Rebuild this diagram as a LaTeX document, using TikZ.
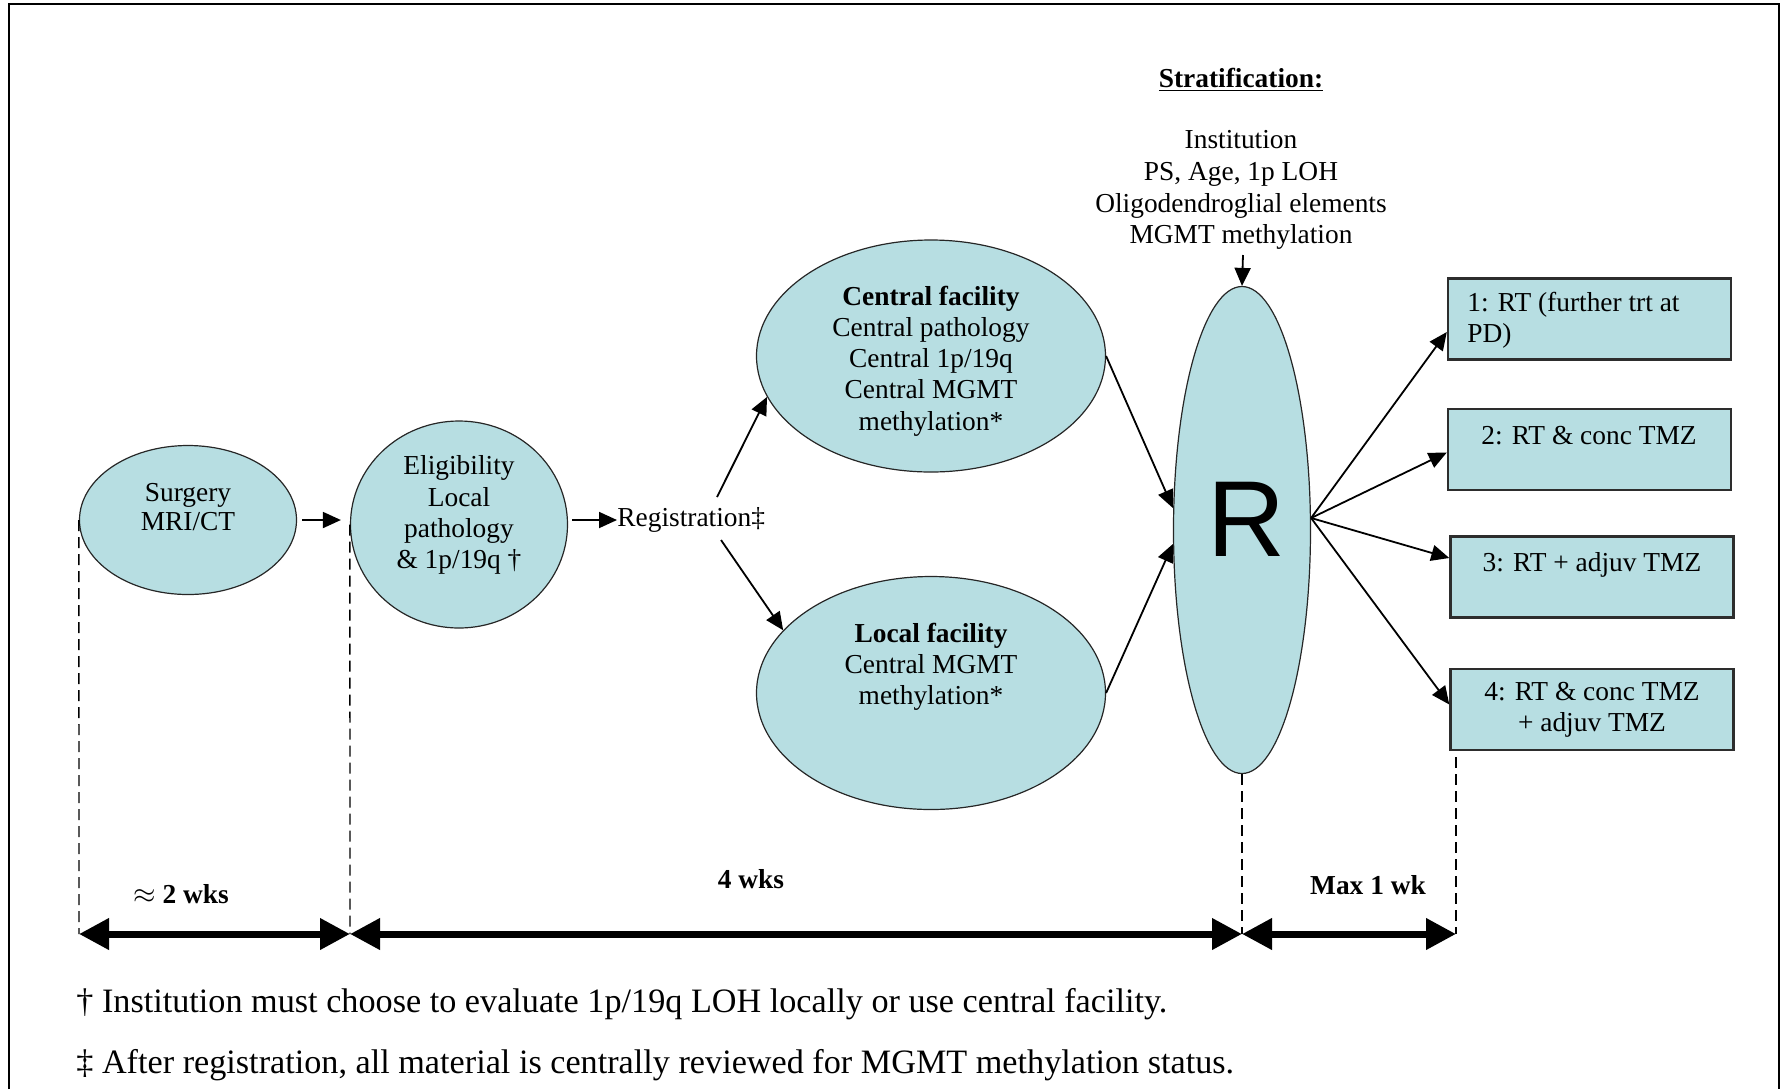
\documentclass[tikz,border=0pt]{standalone}
\usepackage{fontspec}
\setmainfont{Liberation Serif}
\newfontfamily\bigsans{Liberation Sans}
\usetikzlibrary{shapes.geometric,arrows.meta,calc}
\definecolor{ovalfill}{RGB}{183,222,226}
\definecolor{boxline}{RGB}{45,45,45}

\begin{document}
\begin{tikzpicture}[x=0.5pt,y=-0.5pt,
  oval/.style={ellipse, draw=black!85, line width=0.6pt, fill=ovalfill, inner sep=0pt},
  txt/.style={align=center, inner sep=0pt, font=\fontsize{13.7}{15.6}\selectfont},
  armbox/.style={rectangle, draw=boxline, line width=1.2pt, fill=ovalfill, inner sep=0pt,
                 minimum width=141.5pt, minimum height=40.5pt},
  arr/.style={-{Triangle[length=9pt,width=8pt]}, line width=0.9pt},
  guide/.style={dash pattern=on 5.5pt off 3pt, line width=0.7pt},
  span/.style={{Triangle[length=15pt,width=15pt]}-{Triangle[length=15pt,width=15pt]}, line width=3.5pt},
  foot/.style={anchor=west, inner sep=0pt, font=\fontsize{17.1}{20}\selectfont},
  wks/.style={inner sep=0pt, font=\fontsize{13.7}{15.6}\selectfont\bfseries},
]
\useasboundingbox (0,0) rectangle (1785,1089);

% outer frame (open at the bottom)
\draw[line width=1pt] (9,1089) -- (9,4) -- (1779,4) -- (1779,1089);

% stratification factors
\node[txt, font=\fontsize{13.7}{15.6}\selectfont\bfseries] (strathead) at (1241,80) {\underline{Stratification:}};
\node[txt, font=\fontsize{13.7}{15.9}\selectfont] (stratlist) at (1241,190)
  {Institution\\PS, Age, 1p LOH\\Oligodendroglial elements\\MGMT methylation};
\coordinate (stratTip) at (1243,255);

% flow ellipses
\node[oval, minimum width=108.5pt, minimum height=74.5pt] (surg) at (188,520) {};
\node[txt, font=\fontsize{13.7}{14.3}\selectfont] (surgT) at (188,507) {Surgery\\MRI/CT};

\node[oval, minimum width=108.5pt, minimum height=103.5pt] (elig) at (459,524.5) {};
\node[txt] (eligT) at (459,515) {Eligibility\\Local\\pathology\\\& 1p/19q \dag};

\node[txt, anchor=west] (reg) at (617,520) {Registration\ddag};

\node[oval, minimum width=174.5pt, minimum height=116pt] (cen) at (931,356) {};
\node[txt] (cenT) at (931,361) {\textbf{Central facility}\\Central pathology\\Central 1p/19q\\Central MGMT\\methylation*};

\node[oval, minimum width=174.5pt, minimum height=116.5pt] (loc) at (931,693) {};
\node[txt] (locT) at (931,667) {\textbf{Local facility}\\Central MGMT\\methylation*};

\node[oval, minimum width=68.5pt, minimum height=243.5pt] (R) at (1242,530) {};
\node[inner sep=0pt, font=\fontsize{54}{54}\bigsans] (Rlab) at (1246,519) {R};

% treatment arms
\node[armbox] (b1) at (1589.5,319) {};
\node[txt, anchor=west, align=left] (b1T) at (1467,320) {1: RT (further trt at\\PD)};
\node[armbox] (b2) at (1589.5,449.5) {};
\node[txt, anchor=base] (b2T) at (1589,444) {2: RT \& conc TMZ};
\node[armbox] (b3) at (1592,577) {};
\node[txt, anchor=base] (b3T) at (1592,571) {3: RT + adjuv TMZ};
\node[armbox] (b4) at (1592,709.5) {};
\node[txt] (b4T) at (1592,710) {4: RT \& conc TMZ\\+ adjuv TMZ};

% connectors
\draw[arr, shorten <=2.5pt, shorten >=4.5pt] (surg.east) -- (surg.east -| elig.west);
\draw[arr, shorten <=2pt] (elig.east |- reg.west) -- (reg.west);
\coordinate (regU) at (717,497);
\coordinate (regD) at (721,540);
\draw[arr] (regU) -- (cen.194);
\draw[arr] (regD) -- (loc.157);
\draw[arr] (cen.east) -- ($(R.west)+(0,-22)$);
\draw[arr] (loc.east) -- ($(R.west)+(0,14)$);
\draw[arr] (stratTip) -- (R.north);
\coordinate (Rout) at ($(R.east)+(0,-12)$);
\draw[arr] (Rout) -- ($(b1.west)+(0,13)$);
\draw[arr] (Rout) -- ($(b2.west)+(0,3)$);
\draw[arr] (Rout) -- ($(b3.west)+(0,-19)$);
\draw[arr] (Rout) -- ($(b4.west)+(0,-5)$);

% time line
\coordinate (base) at (0,934);
\coordinate (t0) at (79,934);
\coordinate (t1) at (350,934);
\coordinate (t2) at (1242,934);
\coordinate (t3) at (1456,934);
\draw[guide] (surg.west) -- (t0);
\draw[guide] (elig.west) -- (t1);
\draw[guide] (R.south) -- (t2);
\draw[guide, shorten <=3pt] (t3 |- b4.south) -- (t3);
\draw[span] (t0) -- (t1);
\draw[span] (t1) -- (t2);
\draw[span] (t2) -- (t3);
\node[wks] (w1) at (181,894) {$\approx$ 2 wks};
\node[wks] (w2) at (751,879) {4 wks};
\node[wks] (w3) at (1368,885) {Max 1 wk};

% footnotes
\node[foot] (fn1) at (76,1004) {\dag\ Institution must choose to evaluate 1p/19q LOH locally or use central facility.};
\node[foot] (fn2) at (76,1065) {\ddag\ After registration, all material is centrally reviewed for MGMT methylation status.};
\end{tikzpicture}
\end{document}
